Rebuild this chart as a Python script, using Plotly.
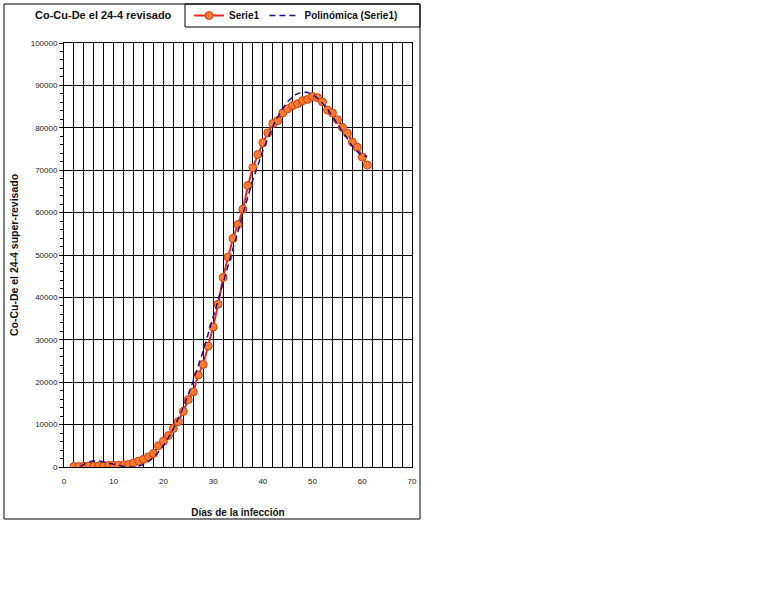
import numpy as np
import plotly.graph_objects as go

# Data
dias = list(range(2, 62))
casos = [100, 100, 200, 200, 200, 300, 300, 400, 400, 400,
         500, 600, 950, 1400, 1800, 2400, 3200, 5000, 6100, 7400,
         9100, 10700, 13100, 15900, 17700, 21700, 24200, 28500, 33000, 38400,
         44700, 49500, 53900, 57200, 60800, 66400, 70600, 73700, 76500, 78800,
         81000, 81700, 83500, 84500, 85200, 85700, 86400, 86700, 87400, 87100,
         86100, 84200, 83500, 81900, 80100, 78700, 76600, 75400, 73100, 71200]

x_ticks = [0, 10, 20, 30, 40, 50, 60, 70]
y_ticks = [0, 10000, 20000, 30000, 40000, 50000, 60000, 70000, 80000, 90000, 100000]

# Polynomial trendline (order 6) of Serie1, as in the original spreadsheet chart
poly = np.polynomial.Polynomial.fit(dias, casos, 6)
xt = np.linspace(min(dias), max(dias), 300)
yt = poly(xt)

FONT = "Arial, Liberation Sans, sans-serif"

fig = go.Figure()
fig.add_trace(go.Scatter(
    x=dias, y=casos, mode="lines+markers", name="<b>Serie1</b>",
    line=dict(color="#E8281E", width=2),
    marker=dict(symbol="circle", size=8, color="#FF7A2E",
                line=dict(color="#D0400E", width=1)),
))
fig.add_trace(go.Scatter(
    x=xt, y=yt, mode="lines", name="<b>Polinómica (Serie1)</b>",
    line=dict(color="#1A0A8C", width=1.5, dash="6px,4px"),
))

# plot area: x 64..412, y 43..467 in a 768x614 page
L, R, T, B = 64, 412, 43, 467
W, H = R - L, B - T

def px(x):
    return (x - L) / W

def py(y):
    return (B - y) / H

fig.update_layout(
    width=768, height=614,
    margin=dict(l=L, r=768 - R, t=T, b=614 - B, pad=0, autoexpand=False),
    paper_bgcolor="white", plot_bgcolor="white",
    font=dict(family=FONT, size=8, color="#222222"),
    showlegend=True,
    legend=dict(
        orientation="h", x=px(189), y=py(15.5), xanchor="left", yanchor="middle",
        font=dict(family=FONT, size=10, color="#111111"),
        bgcolor="rgba(0,0,0,0)", borderwidth=0,
        itemwidth=30, tracegroupgap=0,
    ),
    xaxis=dict(
        range=[0, 70], tickvals=x_ticks, ticktext=[str(v) for v in x_ticks],
        showgrid=True, gridcolor="black", gridwidth=1,
        minor=dict(dtick=2, tick0=0, showgrid=True, gridcolor="black", gridwidth=1),
        showline=True, linecolor="black", linewidth=1, mirror=True,
        ticks="", zeroline=False, ticklabelstandoff=6,
        tickfont=dict(family=FONT, size=8, color="#222222"),
        title=dict(text="<b>Días de la infección</b>", standoff=24,
                   font=dict(family=FONT, size=10, color="#111111")),
    ),
    yaxis=dict(
        range=[0, 100000], tickvals=y_ticks, ticktext=[str(v) for v in y_ticks],
        showgrid=True, gridcolor="black", gridwidth=1,
        minor=dict(dtick=2000, tick0=0, ticks="outside", ticklen=3,
                   tickcolor="black", showgrid=False),
        ticks="outside", ticklen=4, tickcolor="black",
        showline=True, linecolor="black", linewidth=1, mirror=True,
        zeroline=False,
        tickfont=dict(family=FONT, size=8, color="#222222"),
        title=dict(text="<b>Co-Cu-De el 24-4 super-revisado</b>", standoff=10,
                   font=dict(family=FONT, size=10.5, color="#111111")),
    ),
    shapes=[
        # outer chart frame
        dict(type="rect", xref="paper", yref="paper",
             x0=px(4), x1=px(420), y0=py(519), y1=py(4),
             line=dict(color="black", width=1), fillcolor="rgba(0,0,0,0)",
             layer="below"),
        # legend frame
        dict(type="rect", xref="paper", yref="paper",
             x0=px(185), x1=px(420), y0=py(27), y1=py(4),
             line=dict(color="black", width=1), fillcolor="rgba(0,0,0,0)"),
    ],
    annotations=[
        dict(text="<b>Co-Cu-De el 24-4 revisado</b>", xref="paper", yref="paper",
             x=px(103), y=py(15), xanchor="center", yanchor="middle",
             showarrow=False, font=dict(family=FONT, size=11, color="#111111")),
    ],
)

fig.write_html("out.html", config={"displayModeBar": False},
               post_script="document.body.style.margin='0';")
